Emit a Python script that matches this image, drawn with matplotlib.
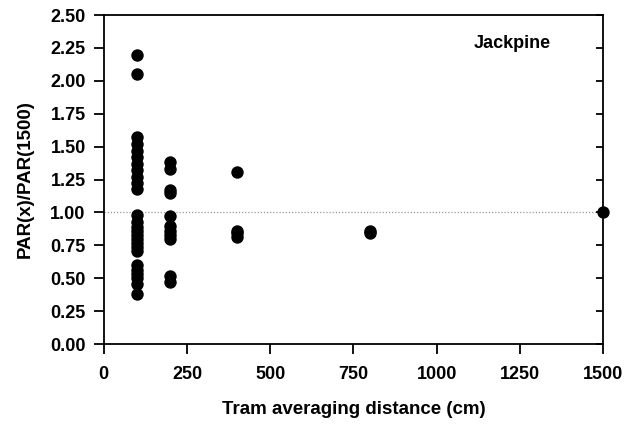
import numpy as np
import matplotlib.pyplot as plt

# Jackpine: PAR ratio vs averaging distance
dist_100 = [2.20, 2.05, 1.57, 1.52, 1.47, 1.42, 1.37, 1.32, 1.27, 1.22, 1.18,
            0.98, 0.93, 0.89, 0.86, 0.83, 0.80, 0.77, 0.74, 0.71,
            0.60, 0.56, 0.53, 0.50, 0.46, 0.38]
dist_200 = [1.38, 1.33, 1.17, 1.15, 0.97, 0.90, 0.86, 0.83, 0.80, 0.52, 0.47]
dist_400 = [1.31, 0.86, 0.84, 0.81]
dist_800 = [0.86, 0.84]
dist_1500 = [1.00]

distances = [100, 200, 400, 800, 1500]
ratios = [dist_100, dist_200, dist_400, dist_800, dist_1500]

plt.rcParams["font.family"] = ["Liberation Sans", "DejaVu Sans"]
plt.rcParams["font.weight"] = "bold"

fig = plt.figure(figsize=(6.29, 4.29), dpi=100)
ax = fig.add_axes([0.165, 0.198, 0.794, 0.767])

ax.axhline(1.0, color="#999999", lw=0.9, ls=(0, (1, 1.5)), zorder=1)
for d, vals in zip(distances, ratios):
    ax.scatter(np.full(len(vals), d), vals, s=80, color="black", zorder=3,
               clip_on=False, linewidths=0)

ax.set_xlim(0, 1500)
ax.set_ylim(0, 2.5)
ax.set_xticks([0, 250, 500, 750, 1000, 1250, 1500])
ax.set_yticks(np.arange(0, 2.51, 0.25))
ax.yaxis.set_major_formatter(plt.FuncFormatter(lambda v, _p: f"{v:.2f}"))
ax.tick_params(axis="both", direction="out", length=7, width=1.3, labelsize=13)
ax.tick_params(axis="y", pad=6)
ax.tick_params(axis="x", pad=9)
ax.tick_params(axis="y", which="major", right=True, labelright=False)
for t in ax.yaxis.get_ticklines()[1::2]:
    t.set_marker(0)
    t.set_markersize(5)
for side in ["left", "bottom", "top", "right"]:
    ax.spines[side].set_linewidth(1.3)

ax.set_xlabel("Tram averaging distance (cm)", fontsize=13.5, fontweight="bold", labelpad=13)
ax.set_ylabel("PAR(x)/PAR(1500)", fontsize=13.5, fontweight="bold", labelpad=12)
ax.text(1110, 2.28, "Jackpine", fontsize=13, fontweight="bold", va="center")

fig.savefig("out.png", dpi=100, facecolor="white")
